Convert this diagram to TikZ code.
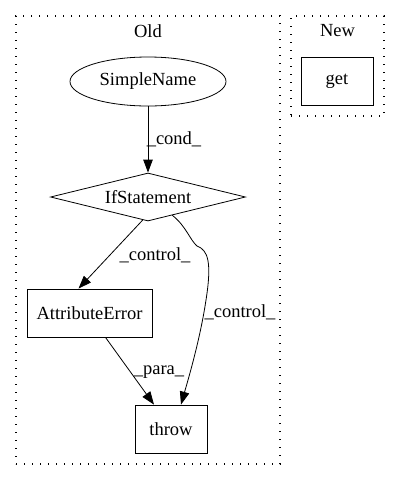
\documentclass[tikz,border=0pt]{standalone}
\usepackage{fontspec}
\setmainfont{Liberation Serif}
\usetikzlibrary{shapes.geometric,arrows.meta,positioning}

\tikzset{
  box/.style={draw, rectangle, minimum height=48pt, inner sep=0pt, line width=0.8pt},
  cluster/.style={draw, rectangle, dash pattern=on 1.4pt off 6.6pt, line width=1.3pt, inner sep=0pt},
  edge/.style={-{Triangle[length=13pt,width=9.5pt]}, line width=0.8pt},
  elabel/.style={inner sep=0pt}
}

\begin{document}
\begin{tikzpicture}[x=1pt,y=-1pt,font=\fontsize{18.5}{22}\selectfont]
    \useasboundingbox (0,0) rectangle (400,480);

    % Clusters
    \node[cluster, minimum width=264pt, minimum height=448pt] (old) at (148,240) {};
    \node[cluster, minimum width=93pt, minimum height=100pt] (new) at (337.5,66) {};
    \node (oldlabel) at (148,31) {Old};
    \node (newlabel) at (337.5,31) {New};

    % Nodes
    \node[draw, ellipse, minimum width=156pt, minimum height=49pt, inner sep=0pt, line width=0.8pt] (simplename) at (148,81.5) {SimpleName};
    \node[draw, diamond, minimum width=195pt, minimum height=48pt, aspect=4, inner sep=0pt, line width=0.8pt] (if) at (148,197) {IfStatement};
    \node[box, minimum width=125pt] (attr) at (89.5,313) {AttributeError};
    \node[box, minimum width=72pt] (throw) at (171,429) {throw};
    \node[box, minimum width=72pt] (get) at (337,81) {get};

    % Edges
    \draw[edge] (simplename) -- (if);
    \node[elabel] (condlabel) at (174,139) {\_cond\_};

    \draw[edge] (if.-103) -- ([xshift=-11pt]attr.north);
    \node[elabel] (ctrl1label) at (155,255) {\_control\_};

    \draw[edge] ([xshift=16pt]attr.south) -- ([xshift=-17pt]throw.north);
    \node[elabel] (paralabel) at (159,372) {\_para\_};

    \draw[edge] (if.-37) .. controls (186,226) and (190,240) .. (197,246)
        .. controls (208,250) and (212,262) .. (206,300)
        .. controls (200,340) and (188,380) .. ([xshift=10pt]throw.north);
    \node[elabel] (ctrl2label) at (240,312) {\_control\_};
\end{tikzpicture}
\end{document}
